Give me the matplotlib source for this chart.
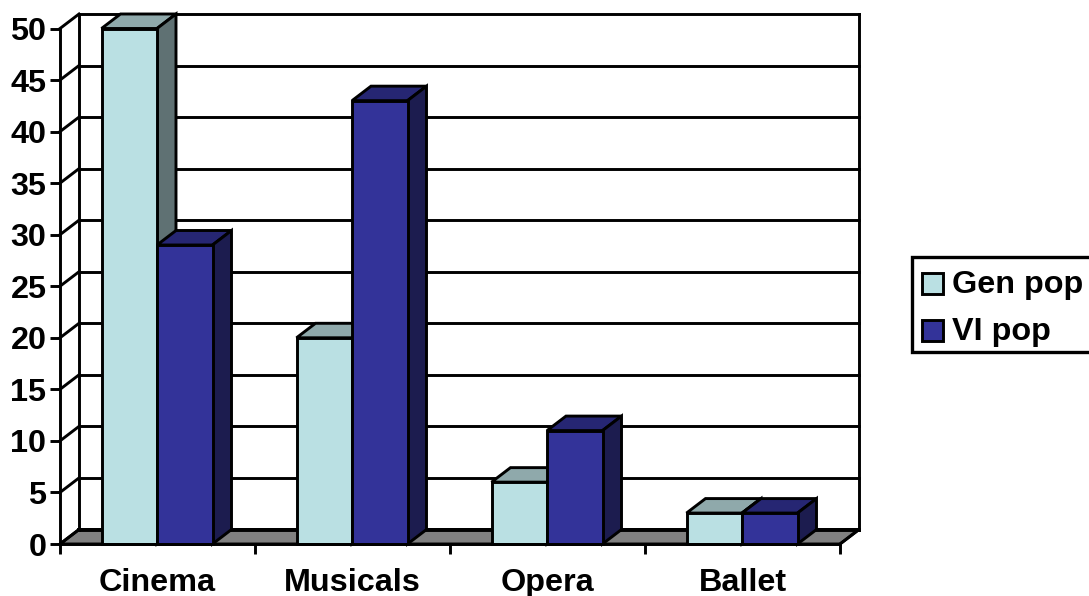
#!/usr/bin/env python3
"""Recreate the 3D-look clustered bar chart (Gen pop vs VI pop)."""

import numpy as np
import matplotlib
matplotlib.use("Agg")
import matplotlib.pyplot as plt
from matplotlib.patches import Polygon, Rectangle

plt.rcParams['font.family'] = ['Liberation Sans', 'DejaVu Sans']

categories = ["Cinema", "Musicals", "Opera", "Ballet"]
gen_pop = [50, 20, 6, 3]
vi_pop = [29, 43, 11, 3]
y_ticks = [0, 5, 10, 15, 20, 25, 30, 35, 40, 45, 50]
series_names = ["Gen pop", "VI pop"]

W, H = 1089, 596
LEFT, RIGHT, BOTTOM, TOP = 60, 840, 544, 28.5
DX_PX, DY_PX = 19, 14.5
BAR_PX = 55.5

# front, top, side colours
GEN_COLS = ("#BAE0E3", "#8FA9AB", "#5F7173")
VI_COLS = ("#333399", "#262673", "#1C1C4F")
LW = 2.1
FONT = 23.3

fig = plt.figure(figsize=(W / 100, H / 100), dpi=100)
ax = fig.add_axes([LEFT / W, 1 - BOTTOM / H, (RIGHT - LEFT) / W, (BOTTOM - TOP) / H])
ax.set_xlim(0, len(categories))
ax.set_ylim(0, 50)
ax.patch.set_visible(False)

# pixel sizes in data units
dx = DX_PX / ((RIGHT - LEFT) / len(categories))
dy = DY_PX / ((BOTTOM - TOP) / 50)
bar_w = BAR_PX / ((RIGHT - LEFT) / len(categories))
n = len(categories)

# floor
ax.add_patch(Polygon([(0, 0), (n, 0), (n + dx, dy), (dx, dy)], closed=True,
                     facecolor="#808080", edgecolor="black", lw=LW, clip_on=False, zorder=1))

# back wall + grid
for v in y_ticks:
    ax.plot([dx, n + dx], [v + dy, v + dy], color="black", lw=LW if v else 2.8,
            clip_on=False, zorder=1.5, solid_capstyle="projecting")
    ax.plot([0, dx], [v, v + dy], color="black", lw=LW, clip_on=False, zorder=1.5)
ax.plot([dx, dx], [dy, 50 + dy], color="black", lw=LW, clip_on=False, zorder=1.5)
ax.plot([n + dx, n + dx], [dy, 50 + dy], color="black", lw=LW, clip_on=False, zorder=1.5)
ax.plot([n, n + dx], [0, dy], color="black", lw=LW, clip_on=False, zorder=1.5)


def draw_bar(x0, val, cols, z):
    ax.bar(x0, val, width=bar_w, align="edge", color=cols[0], edgecolor="black",
           linewidth=LW, zorder=z + 0.2, clip_on=False)
    x1 = x0 + bar_w
    ax.add_patch(Polygon([(x0, val), (x1, val), (x1 + dx, val + dy), (x0 + dx, val + dy)],
                         closed=True, facecolor=cols[1], edgecolor="black", lw=LW,
                         clip_on=False, zorder=z))
    ax.add_patch(Polygon([(x1, 0), (x1 + dx, dy), (x1 + dx, val + dy), (x1, val)],
                         closed=True, facecolor=cols[2], edgecolor="black", lw=LW,
                         clip_on=False, zorder=z))


for i in range(n):
    center = i + 0.5 - 0.5 / ((RIGHT - LEFT) / n)
    draw_bar(center - bar_w, gen_pop[i], GEN_COLS, 2 + i)
    draw_bar(center, vi_pop[i], VI_COLS, 2.5 + i)

# axes lines and ticks
for s in ("top", "right"):
    ax.spines[s].set_visible(False)
for s in ("left", "bottom"):
    ax.spines[s].set_linewidth(LW)
    ax.spines[s].set_zorder(10)

ax.set_yticks(y_ticks)
ax.tick_params(axis="y", length=7.5, width=LW, labelsize=FONT, pad=2.3)
for lab in ax.get_yticklabels():
    lab.set_fontweight("bold")
    lab.set_va("center_baseline")

ax.set_xticks(np.arange(n + 1))
ax.set_xticklabels([])
ax.tick_params(axis="x", which="major", length=7.5, width=LW)
ax.set_xticks(np.arange(n) + 0.5, minor=True)
ax.set_xticklabels(categories, minor=True, fontsize=FONT, fontweight="bold")
ax.tick_params(axis="x", which="minor", length=0, pad=17)

# legend box, cut by the right edge as in the source
def fx(px):
    return px / W


def fy(py):
    return 1 - py / H


fig.add_artist(Rectangle((fx(912), fy(352)), fx(190), 95 / H, transform=fig.transFigure,
                         facecolor="white", edgecolor="black", lw=LW + 0.3))
for name, col, py in zip(series_names, (GEN_COLS[0], VI_COLS[0]), (284, 331)):
    fig.add_artist(Rectangle((fx(922), fy(py + 10)), 21 / W, 21 / H, transform=fig.transFigure,
                             facecolor=col, edgecolor="black", lw=LW))
    fig.text(fx(952), fy(py + 1), name, fontsize=FONT, fontweight="bold", va="center", ha="left")

fig.savefig("out.png", dpi=100)
